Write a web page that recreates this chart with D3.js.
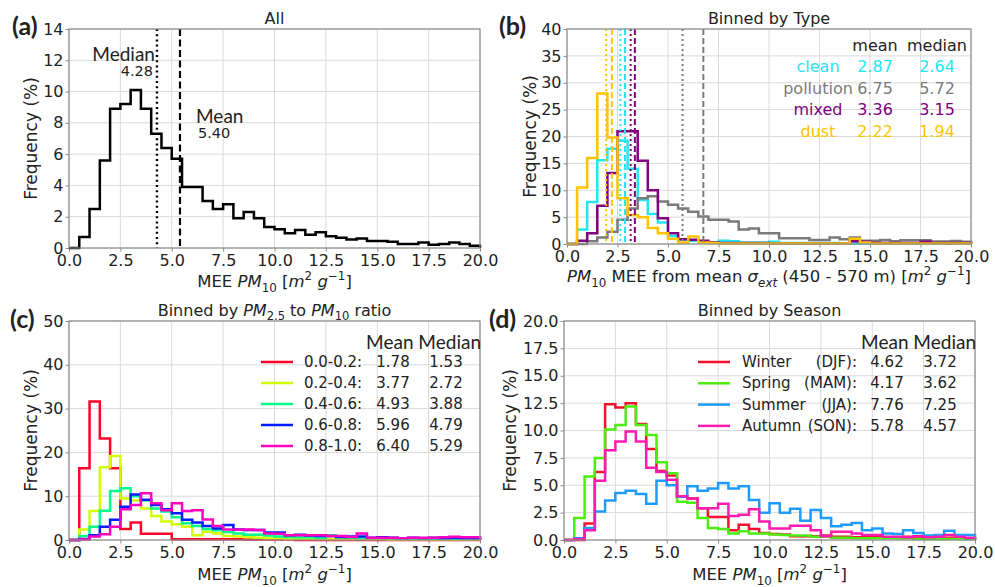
<!DOCTYPE html>
<html lang="en">
<head>
<meta charset="UTF-8">
<title>MEE PM10 histograms</title>
<script src="https://d3js.org/d3.v7.min.js"></script>
<style>
  body { margin: 0; background: #fff; }
  svg text { font-family: "DejaVu Sans", sans-serif; fill: #222; }
  .grid line { stroke: #dadada; stroke-width: 1; }
  .axis line { stroke: #888; }
  .axis text { font-size: 16px; fill: #222; }
  .big { font-family: Lato, "Liberation Sans", sans-serif !important; }
</style>
</head>
<body>
<script>
// bins of 0.5 from 0 to 20
const binEdges = d3.range(0, 20.001, 0.5);
const xTicks = [0, 2.5, 5, 7.5, 10, 12.5, 15, 17.5, 20];

// (a) all
const allFreq = [0, 0.7, 2.5, 5.6, 8.9, 9.2, 10.1, 8.9, 7.3, 6.4,
  5.7, 3.9, 3.9, 3.0, 2.5, 2.8, 1.9, 2.3, 1.9, 1.35,
  1.2, 0.95, 1.15, 0.85, 1.0, 0.75, 0.65, 0.55, 0.6, 0.45,
  0.45, 0.4, 0.25, 0.25, 0.35, 0.2, 0.25, 0.35, 0.25, 0.15];
const allMedian = 4.28;
const allMean = 5.40;

// (b) by type
const typeNames = ["clean", "pollution", "mixed", "dust"];
const typeColors = ["#22e6f2", "#7a7a7a", "#800080", "#ffc400"];
const cleanFreq = [0, 2.7, 7.8, 15.6, 17.7, 19.2, 14.0, 8.2, 5.6, 4.0,
  1.5, 0.8, 0.6, 0.3, 0.3, 0.6, 0.5, 0.3, 0.3, 0.3,
  0.4, 0.2, 0.2, 0.2, 0.2, 0.2, 0.2, 0.1, 0.1, 0.1,
  0.1, 0.1, 0.1, 0.1, 0.1, 0.1, 0.1, 0.1, 0.1, 0.1];
const pollutionFreq = [0, 0, 0.5, 1.2, 2.3, 4.5, 6.6, 8.5, 8.9, 7.9,
  7.3, 6.6, 6.0, 5.1, 4.5, 4.5, 4.2, 2.7, 2.9, 2.0,
  2.0, 1.05, 1.05, 1.05, 0.75, 0.75, 1.2, 0.9, 1.2, 0.6,
  0.6, 0.75, 0.5, 0.7, 0.7, 0.7, 0.45, 0.45, 0.55, 0.4];
const mixedFreq = [0, 0.6, 2.0, 7.1, 13.2, 21.0, 21.0, 15.5, 10.0, 4.8,
  2.0, 0.9, 0.8, 0.6, 0.3, 0.2, 0.2, 0.2, 0.2, 0.2,
  0.1, 0.1, 0.1, 0.1, 0.1, 0.1, 0.1, 0.1, 0.5, 0.4,
  0.2, 0.2, 0.2, 0.2, 0.2, 0.4, 0.2, 0.2, 0.2, 0.2];
const dustFreq = [0, 10.5, 16.0, 28.0, 19.8, 8.5, 5.4, 5.0, 3.0, 2.0,
  1.0, 0.3, 1.4, 0.3, 0.2, 0.1, 0.1, 0.1, 0.1, 0.1,
  0.1, 0.1, 0.1, 0.1, 0.1, 0.1, 0.1, 0.1, 1.0, 0.3,
  0.1, 0.1, 0.1, 0.1, 0.1, 0.1, 0.1, 0.1, 0.1, 0.1];
const typeMean = [2.87, 6.75, 3.36, 2.22];
const typeMedian = [2.64, 5.72, 3.15, 1.94];

// (c) by PM2.5/PM10 ratio
const ratioNames = ["0.0-0.2:", "0.2-0.4:", "0.4-0.6:", "0.6-0.8:", "0.8-1.0:"];
const ratioColors = ["#ff0029", "#cfff00", "#00ff89", "#001cff", "#ff00bf"];
const ratio1Freq = [0, 16.4, 31.6, 23.2, 16.4, 2.5, 4.0, 1.4, 1.4, 1.4,
  0.15, 0.15, 0.15, 0.15, 0.15, 0.15, 0.15, 0.1, 0.1, 0.1,
  0.1, 0.1, 0, 0, 0, 0, 0, 0, 0, 0,
  0, 0, 0, 0, 0, 0, 0, 0, 0, 0];
const ratio2Freq = [0, 2.4, 6.6, 16.6, 19.2, 9.5, 9.0, 7.2, 5.5, 4.2,
  3.6, 3.0, 1.1, 1.9, 1.5, 0.9, 0.8, 0.6, 0.5, 0.4,
  0.4, 0.3, 0.3, 0.3, 0.3, 0.2, 0.2, 0.2, 0.2, 0.2,
  0.2, 0.1, 0.1, 0.1, 0.1, 0.1, 0.1, 0.1, 0.1, 0.1];
const ratio3Freq = [0, 0.9, 3.0, 6.7, 11.2, 11.8, 10.0, 9.0, 7.2, 6.5,
  5.2, 3.8, 3.2, 2.5, 2.2, 1.8, 1.5, 1.2, 1.2, 1.0,
  0.8, 0.7, 0.6, 0.6, 0.5, 1.0, 0.6, 0.5, 0.4, 0.4,
  0.4, 0.4, 0.3, 0.3, 0.3, 0.3, 0.3, 0.3, 0.3, 0.3];
const ratio4Freq = [0, 0.2, 1.1, 3.0, 4.6, 7.6, 10.4, 9.2, 8.0, 7.0,
  6.1, 4.6, 4.0, 3.2, 2.6, 3.4, 2.4, 2.3, 2.3, 1.7,
  1.7, 1.1, 1.2, 1.0, 0.9, 0.9, 0.7, 0.8, 0.8, 0.5,
  0.6, 0.5, 0.4, 0.5, 0.4, 0.5, 0.4, 0.5, 0.4, 0.4];
const ratio5Freq = [0, 0.1, 0.8, 1.3, 3.0, 7.0, 8.0, 10.7, 8.4, 6.8,
  8.4, 6.6, 6.8, 4.7, 3.2, 2.4, 2.4, 2.4, 2.3, 1.5,
  1.4, 1.1, 1.1, 1.1, 1.1, 0.9, 0.9, 0.7, 1.5, 0.5,
  0.5, 0.5, 0.4, 0.5, 0.5, 0.5, 0.6, 0.75, 0.6, 0.6];
const ratioMean = ["1.78", "3.77", "4.93", "5.96", "6.40"];
const ratioMedian = ["1.53", "2.72", "3.88", "4.79", "5.29"];

// (d) by season
const seasonNames = ["Winter", "Spring", "Summer", "Autumn"];
const seasonMonths = ["(DJF):", "(MAM):", "(JJA):", "(SON):"];
const seasonColors = ["#f5102e", "#4cee10", "#1e9bff", "#ff1ab0"];
const winterFreq = [0, 0, 1.5, 6.2, 12.4, 12.1, 12.5, 10.6, 8.3, 6.3,
  5.9, 4.0, 3.8, 2.9, 2.1, 2.1, 0.9, 1.4, 1.0, 0.65,
  0.55, 0.5, 0.35, 0.35, 0.35, 0.4, 0.3, 0.3, 0.25, 0.25,
  0.25, 0.2, 0.2, 0.3, 0.2, 0.15, 0.2, 0.2, 0.15, 0.1];
const springFreq = [0, 2.0, 5.8, 7.5, 10.1, 10.5, 12.2, 10.5, 9.6, 7.1,
  6.1, 3.5, 3.4, 2.0, 1.1, 1.0, 0.6, 0.8, 0.6, 0.6,
  0.5, 0.45, 0.4, 0.4, 0.3, 0.3, 0.2, 0.2, 0.15, 0.15,
  0.15, 0.15, 0.15, 0.15, 0.1, 0.1, 0.1, 0.1, 0.1, 0.1];
const summerFreq = [0, 0.15, 1.1, 2.6, 3.6, 4.3, 4.5, 4.2, 3.3, 5.4,
  5.0, 3.95, 4.9, 4.5, 4.7, 5.2, 4.7, 4.9, 3.65, 2.5,
  3.35, 2.5, 2.85, 1.75, 2.75, 2.0, 1.25, 1.4, 1.55, 0.9,
  1.05, 0.6, 0.55, 0.9, 0.65, 0.4, 0.45, 0.85, 0.45, 0.45];
const autumnFreq = [0, 0.1, 0.9, 5.4, 8.2, 9.0, 9.9, 9.0, 6.6, 6.2,
  5.5, 4.0, 3.8, 2.9, 2.9, 3.3, 2.2, 2.3, 2.8, 1.7,
  1.05, 1.05, 1.3, 1.3, 0.9, 0.35, 0.75, 0.75, 0.6, 0.45,
  0.45, 0.3, 0.3, 0.25, 0.35, 0.25, 0.3, 0.45, 0.3, 0.2];
const seasonMean = ["4.62", "4.17", "7.76", "5.78"];
const seasonMedian = ["3.72", "3.62", "7.25", "4.57"];

const svg = d3.select("body").append("svg")
    .attr("width", 995)
    .attr("height", 587);

// write text made of plain / italic / sub / sup pieces
function richText(sel, parts, fs) {
  let shift = 0;
  parts.forEach(([t, k]) => {
    const target = k.includes("sub") ? 0.28 * fs : k.includes("sup") ? -0.42 * fs : 0;
    const ts = sel.append("tspan").text(t).attr("dy", target - shift);
    if (k.includes("i")) ts.style("font-style", "italic");
    if (target !== 0) ts.style("font-size", (0.72 * fs) + "px");
    shift = target;
  });
}

const PM10 = [["PM", "i"], ["10", "sub"]];
const unit = [[" [", ""], ["m", "i"], ["2", "sup"], [" ", ""], ["g", "i"], ["\u22121", "sup"], ["]", ""]];

function stepPoints(vals) {
  const pts = [[binEdges[0], 0]];
  vals.forEach((v, i) => {
    pts.push([binEdges[i], v]);
    pts.push([binEdges[i + 1], v]);
  });
  pts.push([binEdges[vals.length], 0]);
  return pts;
}

function panel(cfg) {
  const {left, right, top, bottom} = cfg.box;
  const x = d3.scaleLinear().domain([0, 20]).range([left, right]);
  const y = d3.scaleLinear().domain([0, cfg.yMax]).range([bottom, top]);
  const g = svg.append("g");

  // grid
  const grid = g.append("g").attr("class", "grid");
  grid.selectAll(".gx").data(xTicks).enter().append("line")
      .attr("x1", d => x(d)).attr("x2", d => x(d)).attr("y1", top).attr("y2", bottom);
  grid.selectAll(".gy").data(cfg.yTicks).enter().append("line")
      .attr("x1", left).attr("x2", right).attr("y1", d => y(d)).attr("y2", d => y(d));

  // axes
  g.append("g").attr("class", "axis")
      .attr("transform", `translate(0,${bottom})`)
      .call(d3.axisBottom(x).tickValues(xTicks).tickFormat(d3.format(".1f")).tickSize(3.5).tickPadding(3))
      .call(a => a.select(".domain").remove());
  g.append("g").attr("class", "axis")
      .attr("transform", `translate(${left},0)`)
      .call(d3.axisLeft(y).tickValues(cfg.yTicks).tickFormat(cfg.yFmt).tickSize(3.5).tickPadding(2))
      .call(a => a.select(".domain").remove());
  g.selectAll(".axis text").attr("font-family", "DejaVu Sans").attr("fill", "#222");

  // histograms
  const line = d3.line().x(d => x(d[0])).y(d => y(d[1]));
  cfg.series.forEach(s => {
    g.append("path")
        .attr("d", line(stepPoints(s.values)))
        .attr("fill", "none")
        .attr("stroke", s.color)
        .attr("stroke-width", s.width || 2.5)
        .attr("stroke-linejoin", "miter");
  });

  // vertical mean / median lines
  (cfg.vlines || []).forEach(v => {
    g.append("line")
        .attr("x1", x(v.value)).attr("x2", x(v.value))
        .attr("y1", top).attr("y2", bottom)
        .attr("stroke", v.color)
        .attr("stroke-width", v.width || 2)
        .attr("stroke-dasharray", v.dash);
  });

  // frame
  g.append("rect")
      .attr("x", left).attr("y", top)
      .attr("width", right - left).attr("height", bottom - top)
      .attr("fill", "none").attr("stroke", "#8c8c8c").attr("stroke-width", 1.2);

  // title
  const title = g.append("text")
      .attr("x", (left + right) / 2).attr("y", top - 5)
      .attr("text-anchor", "middle").attr("font-size", 16);
  richText(title, cfg.title, 16);

  // x label
  const xl = g.append("text")
      .attr("x", (left + right) / 2).attr("y", bottom + cfg.xlabelOffset)
      .attr("text-anchor", "middle").attr("font-size", 16.5);
  richText(xl, cfg.xlabel, 16.5);

  // y label
  g.append("text")
      .attr("transform", `translate(${cfg.ylabelX},${(top + bottom) / 2}) rotate(-90)`)
      .attr("text-anchor", "middle").attr("font-size", 17)
      .text("Frequency (%)");

  // panel letter
  g.append("text").attr("class", "big")
      .attr("x", cfg.tag[1]).attr("y", cfg.tag[2])
      .attr("font-size", 25).attr("font-weight", "bold")
      .text(cfg.tag[0]);

  return {g, x, y};
}

// ---------- (a)
const pa = panel({
  box: {left: 69, right: 480, top: 29, bottom: 248},
  yMax: 14, yTicks: d3.range(0, 15, 2), yFmt: d3.format("d"),
  series: [{values: allFreq, color: "#000"}],
  vlines: [
    {value: allMedian, color: "#000", dash: "2,3.2", width: 2.4},
    {value: allMean, color: "#000", dash: "7,3.5", width: 2.2}
  ],
  title: [["All", ""]],
  xlabel: [["MEE ", ""], ...PM10, ...unit],
  xlabelOffset: 39, ylabelX: 37,
  tag: ["(a)", 12, 35]
});
pa.g.append("text").attr("class", "big")
    .attr("x", pa.x(allMedian) - 2).attr("y", 61)
    .attr("text-anchor", "end").attr("font-size", 19).text("Median");
pa.g.append("text")
    .attr("x", pa.x(allMedian) - 4).attr("y", 76)
    .attr("text-anchor", "end").attr("font-size", 14.5).text(allMedian.toFixed(2));
pa.g.append("text").attr("class", "big")
    .attr("x", 196).attr("y", 123).attr("font-size", 19).text("Mean");
pa.g.append("text")
    .attr("x", 198).attr("y", 138).attr("font-size", 14.5).text(allMean.toFixed(2));

// ---------- (b)
const typeFreq = [cleanFreq, pollutionFreq, mixedFreq, dustFreq];
const typeVlines = [];
typeNames.forEach((n, i) => {
  typeVlines.push({value: typeMedian[i], color: typeColors[i], dash: "2,3", width: 2});
  typeVlines.push({value: typeMean[i], color: typeColors[i], dash: "6,3", width: 2});
});
const pb = panel({
  box: {left: 567, right: 971, top: 29, bottom: 244},
  yMax: 40, yTicks: d3.range(0, 41, 5), yFmt: d3.format("d"),
  series: typeFreq.map((v, i) => ({values: v, color: typeColors[i]})),
  vlines: typeVlines,
  title: [["Binned by Type", ""]],
  xlabel: [...PM10, [" MEE from mean ", ""], ["\u03c3", "i"], ["ext", "isub"], [" (450 - 570 m)", ""], ...unit],
  xlabelOffset: 38, ylabelX: 536,
  tag: ["(b)", 499, 35]
});
pb.g.append("text").attr("x", 875).attr("y", 51).attr("text-anchor", "middle")
    .attr("font-size", 16).text("mean");
pb.g.append("text").attr("x", 937).attr("y", 51).attr("text-anchor", "middle")
    .attr("font-size", 16).text("median");
typeNames.forEach((n, i) => {
  const yy = 72 + i * 21.5;
  [[818, n], [875, typeMean[i].toFixed(2)], [937, typeMedian[i].toFixed(2)]].forEach(([xx, t]) => {
    pb.g.append("text").attr("x", xx).attr("y", yy).attr("text-anchor", "middle")
        .attr("font-size", 16).style("fill", typeColors[i]).text(t);
  });
});

// ---------- (c)
const ratioFreq = [ratio1Freq, ratio2Freq, ratio3Freq, ratio4Freq, ratio5Freq];
const pc = panel({
  box: {left: 69, right: 480, top: 321, bottom: 540},
  yMax: 50, yTicks: d3.range(0, 51, 10), yFmt: d3.format("d"),
  series: ratioFreq.map((v, i) => ({values: v, color: ratioColors[i]})),
  title: [["Binned by ", ""], ["PM", "i"], ["2.5", "sub"], [" to ", ""], ...PM10, [" ratio", ""]],
  xlabel: [["MEE ", ""], ...PM10, ...unit],
  xlabelOffset: 40, ylabelX: 37,
  tag: ["(c)", 10, 328]
});
pc.g.append("text").attr("class", "big")
    .attr("x", 481).attr("y", 349).attr("text-anchor", "end")
    .attr("font-size", 19).text("Mean Median");
ratioNames.forEach((n, i) => {
  const yy = 367 + i * 21;
  pc.g.append("line").attr("x1", 261).attr("x2", 293).attr("y1", yy - 5).attr("y2", yy - 5)
      .attr("stroke", ratioColors[i]).attr("stroke-width", 2.5);
  pc.g.append("text").attr("x", 304).attr("y", yy).attr("font-size", 15).text(n);
  pc.g.append("text").attr("x", 393).attr("y", yy).attr("text-anchor", "middle")
      .attr("font-size", 15).text(ratioMean[i]);
  pc.g.append("text").attr("x", 446).attr("y", yy).attr("text-anchor", "middle")
      .attr("font-size", 15).text(ratioMedian[i]);
});

// ---------- (d)
const seasonFreq = [winterFreq, springFreq, summerFreq, autumnFreq];
const pd = panel({
  box: {left: 564, right: 975, top: 321, bottom: 540},
  yMax: 20, yTicks: d3.range(0, 20.1, 2.5), yFmt: d3.format(".1f"),
  series: seasonFreq.map((v, i) => ({values: v, color: seasonColors[i]})),
  title: [["Binned by Season", ""]],
  xlabel: [["MEE ", ""], ...PM10, ...unit],
  xlabelOffset: 40, ylabelX: 516,
  tag: ["(d)", 489, 328]
});
pd.g.append("text").attr("class", "big")
    .attr("x", 976).attr("y", 349).attr("text-anchor", "end")
    .attr("font-size", 19).text("Mean Median");
seasonNames.forEach((n, i) => {
  const yy = 367 + i * 21.3;
  pd.g.append("line").attr("x1", 698).attr("x2", 730).attr("y1", yy - 5).attr("y2", yy - 5)
      .attr("stroke", seasonColors[i]).attr("stroke-width", 2.5);
  pd.g.append("text").attr("x", 742).attr("y", yy).attr("font-size", 15).text(n);
  pd.g.append("text").attr("x", 857).attr("y", yy).attr("text-anchor", "end")
      .attr("font-size", 15).text(seasonMonths[i]);
  pd.g.append("text").attr("x", 887).attr("y", yy).attr("text-anchor", "middle")
      .attr("font-size", 15).text(seasonMean[i]);
  pd.g.append("text").attr("x", 940).attr("y", yy).attr("text-anchor", "middle")
      .attr("font-size", 15).text(seasonMedian[i]);
});
</script>
</body>
</html>
